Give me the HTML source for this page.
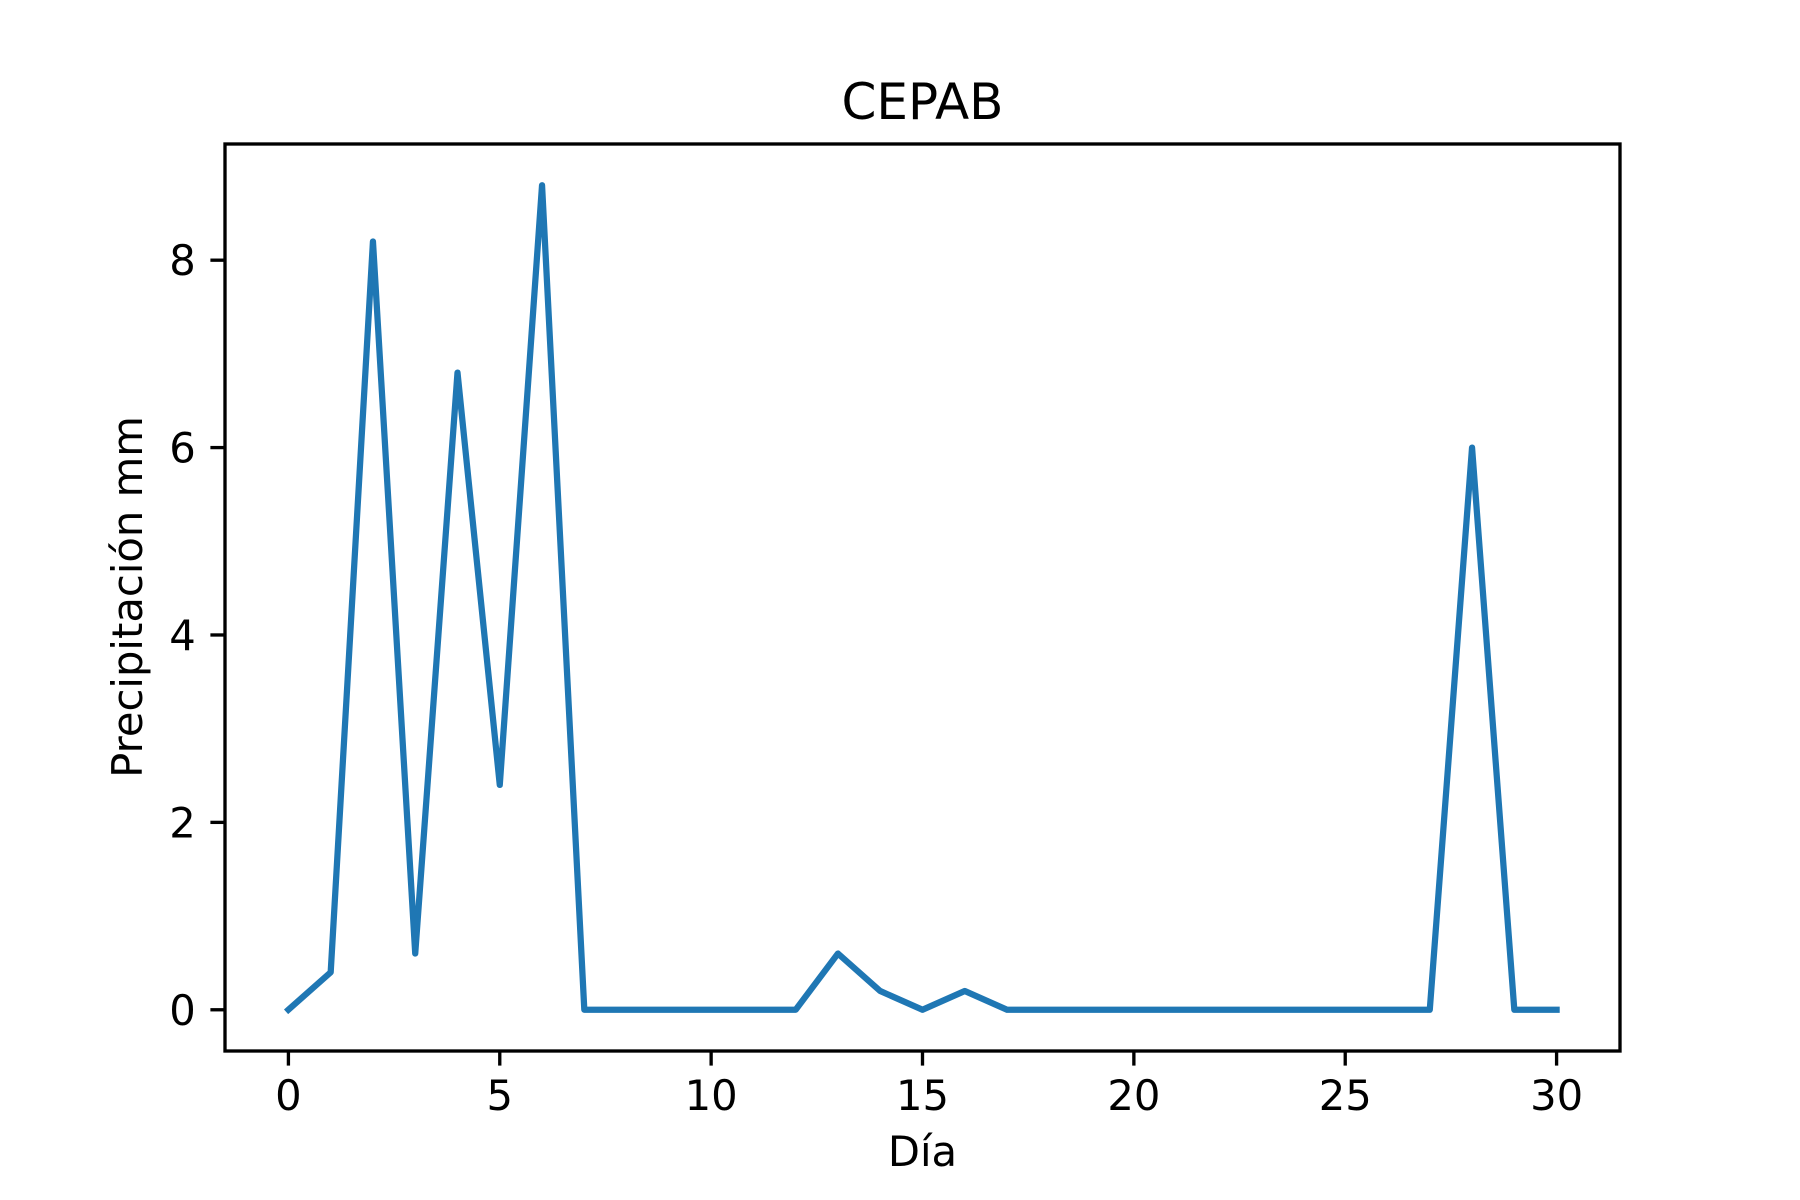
<!DOCTYPE html>
<html><head><meta charset="utf-8"><style>
html,body{margin:0;padding:0;background:#fff;}
svg{display:block;font-family:"DejaVu Sans","Liberation Sans",sans-serif;}
</style></head><body>
<svg id="chart" width="1800" height="1200" viewBox="0 0 1800 1200" xmlns="http://www.w3.org/2000/svg">
<rect width="1800" height="1200" fill="#fff"/>
<text x="922.5" y="119" font-size="50" text-anchor="middle">CEPAB</text>
<g id="xticks"></g><g id="yticks"></g>
<polyline id="series" fill="none" stroke="#1f77b4" stroke-width="6.25" stroke-linejoin="round" stroke-linecap="square"/>
<rect x="225" y="144" width="1395" height="907" fill="none" stroke="#000" stroke-width="3.33"/>
<text x="922.5" y="1166" font-size="41.7" text-anchor="middle">Día</text>
<text transform="translate(142,597) rotate(-90)" font-size="41.7" text-anchor="middle">Precipitación mm</text>
</svg>
<script>
const days=[0,1,2,3,4,5,6,7,8,9,10,11,12,13,14,15,16,17,18,19,20,21,22,23,24,25,26,27,28,29,30];
const precip=[0,0.4,8.2,0.6,6.8,2.4,8.8,0,0,0,0,0,0,0.6,0.2,0,0.2,0,0,0,0,0,0,0,0,0,0,0,6.0,0,0];
const xTicks=[0,5,10,15,20,25,30];
const yTicks=[0,2,4,6,8];
const L=225,R=1620,T=144,B=1051;
const xmin=-1.5,xmax=31.5,ymin=-0.44,ymax=9.24;
const xs=v=>L+(v-xmin)/(xmax-xmin)*(R-L);
const ys=v=>B-(v-ymin)/(ymax-ymin)*(B-T);
const NS='http://www.w3.org/2000/svg';
document.getElementById('series').setAttribute('points',days.map((d,i)=>xs(d)+','+ys(precip[i])).join(' '));
const gx=document.getElementById('xticks');
xTicks.forEach(t=>{
 const l=document.createElementNS(NS,'line');
 
 
 l.setAttribute('x1',xs(t));l.setAttribute('x2',xs(t));l.setAttribute('y1',B);l.setAttribute('y2',B+14.6);
 l.setAttribute('stroke','#000');l.setAttribute('stroke-width','3.33');gx.appendChild(l);
 const tx=document.createElementNS(NS,'text');
 
 
 tx.setAttribute('x',xs(t));tx.setAttribute('y',B+14.6+14.6+30);tx.setAttribute('font-size','41.7');tx.setAttribute('text-anchor','middle');
 tx.textContent=t;gx.appendChild(tx);
});
const gy=document.getElementById('yticks');
yTicks.forEach(t=>{
 const l=document.createElementNS(NS,'line');
 
 
 l.setAttribute('x1',L-14.6);l.setAttribute('x2',L);l.setAttribute('y1',ys(t));l.setAttribute('y2',ys(t));
 l.setAttribute('stroke','#000');l.setAttribute('stroke-width','3.33');gy.appendChild(l);
 const tx=document.createElementNS(NS,'text');
 
 
 tx.setAttribute('x',L-14.6-14.6);tx.setAttribute('y',ys(t)+15);tx.setAttribute('font-size','41.7');tx.setAttribute('text-anchor','end');
 tx.textContent=t;gy.appendChild(tx);
});
</script>
</body></html>
